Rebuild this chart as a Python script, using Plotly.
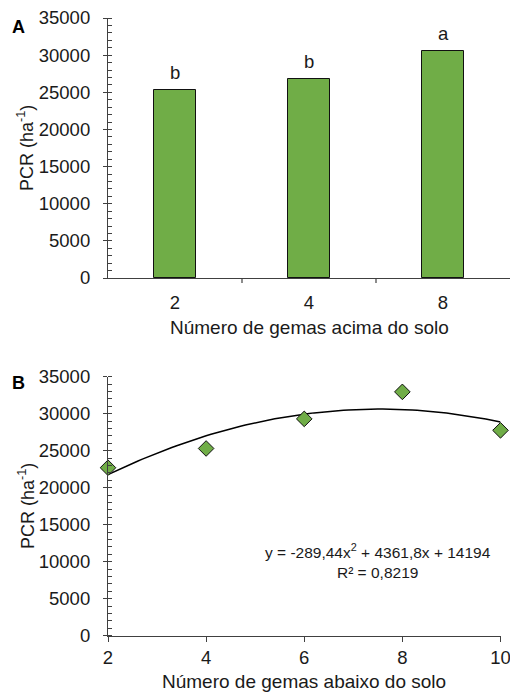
import numpy as np
import plotly.graph_objects as go

# ---- data ----
cats_a = ["2", "4", "8"]
vals_a = [25350, 26800, 30600]
letters_a = ["b", "b", "a"]

x_b = [2, 4, 6, 8, 10]
vals_b = [22700, 25300, 29300, 32950, 27750]
coef_b = [-289.44, 4361.8, 14194]  # a, b, c of printed trend equation
eq_text = "y = -289,44x<sup>2</sup> + 4361,8x + 14194<br>R² = 0,8219"

y_ticks = [0, 5000, 10000, 15000, 20000, 25000, 30000, 35000]

W, H = 510, 692
FONT = "Liberation Sans, Arial, sans-serif"
GREEN = "#70AD47"
AX = "#404040"
TXT = "#1a1a1a"
FS = 18.5

def px_x(p):
    return p / W

def px_y(p):
    return 1 - p / H

fig = go.Figure()

fig.add_trace(go.Bar(x=cats_a, y=vals_a, width=0.31,
                     marker=dict(color=GREEN, line=dict(color="#111111", width=1)),
                     xaxis="x", yaxis="y", showlegend=False))

for i, (v, t) in enumerate(zip(vals_a, letters_a)):
    fig.add_annotation(x=i, y=v, xref="x", yref="y", text=t, showarrow=False,
                       xanchor="center", yanchor="bottom", yshift=5,
                       font=dict(size=FS, color=TXT, family=FONT))

xs = np.linspace(2, 10, 81)
ys = coef_b[0] * xs**2 + coef_b[1] * xs + coef_b[2]
fig.add_trace(go.Scatter(x=xs, y=ys, mode="lines", line=dict(color="black", width=1.5),
                         xaxis="x2", yaxis="y2", showlegend=False, cliponaxis=False))
fig.add_trace(go.Scatter(x=x_b, y=vals_b, mode="markers",
                         marker=dict(symbol="diamond", size=12, color=GREEN,
                                     line=dict(color="#111111", width=1)),
                         xaxis="x2", yaxis="y2", showlegend=False, cliponaxis=False))

yax_common = dict(range=[0, 35000], tickvals=y_ticks, tickformat="d", showline=True,
                  linecolor=AX, linewidth=1.2, automargin=False, ticklabeloverflow="allow",
                  ticks="outside", ticklen=4, tickcolor=AX, showgrid=False, zeroline=False,
                  ticklabelstandoff=9,
                  tickfont=dict(size=FS, color=TXT, family=FONT),
                  minor=dict(ticks="inside", dtick=1000, ticklen=4, tickcolor=AX, showgrid=False))

fig.update_layout(
    width=W, height=H, margin=dict(l=0, r=0, t=0, b=0, autoexpand=False),
    plot_bgcolor="white", paper_bgcolor="white",
    font=dict(family=FONT, color=TXT),
    bargap=0,
    xaxis=dict(domain=[px_x(108), min(1.0, px_x(511))], range=[-0.5, 2.5], type="category",
               automargin=False, ticklabeloverflow="allow", ticklabelstandoff=8,
               showline=True, linecolor=AX, linewidth=1.2, ticks="", showgrid=False,
               tickfont=dict(size=FS, color=TXT, family=FONT), anchor="y"),
    yaxis=dict(domain=[px_y(278), px_y(18)], anchor="x", **yax_common),
    xaxis2=dict(domain=[px_x(108), px_x(500.5)], range=[2, 10], tickvals=[2, 4, 6, 8, 10],
                automargin=False, ticklabeloverflow="allow",
                showline=True, linecolor=AX, linewidth=1.2, ticks="outside", ticklen=5,
                tickcolor=AX, showgrid=False, zeroline=False,
                tickfont=dict(size=FS, color=TXT, family=FONT), anchor="y2"),
    yaxis2=dict(domain=[px_y(635.7), px_y(376.7)], anchor="x2", **yax_common),
)

# category boundary ticks on top x axis
for b in [0.5, 1.5]:
    fig.add_shape(type="line", xref="x", yref="paper", x0=b, x1=b,
                  y0=px_y(278), y1=px_y(283), line=dict(color=AX, width=1.2))

def paper_text(x, y, text, size, angle=0, color=TXT):
    fig.add_annotation(x=px_x(x), y=px_y(y), xref="paper", yref="paper", showarrow=False,
                       xanchor="center", yanchor="middle", textangle=angle, text=text,
                       align="center", font=dict(size=size, color=color, family=FONT))

paper_text(309, 327, "Número de gemas acima do solo", 19)
paper_text(304, 681, "Número de gemas abaixo do solo", 19)
for yc in [148, 506]:
    paper_text(26, yc, "PCR (ha<sup>-1</sup>)", 18, angle=-90)
paper_text(18, 27, "<b>A</b>", 18, color="black")
paper_text(18, 383, "<b>B</b>", 18, color="black")
paper_text(378, 561, eq_text, 15.5)

fig.write_html("out.html", config={"displayModeBar": False},
               post_script="document.body.style.margin='0';document.body.style.overflow='hidden';")
